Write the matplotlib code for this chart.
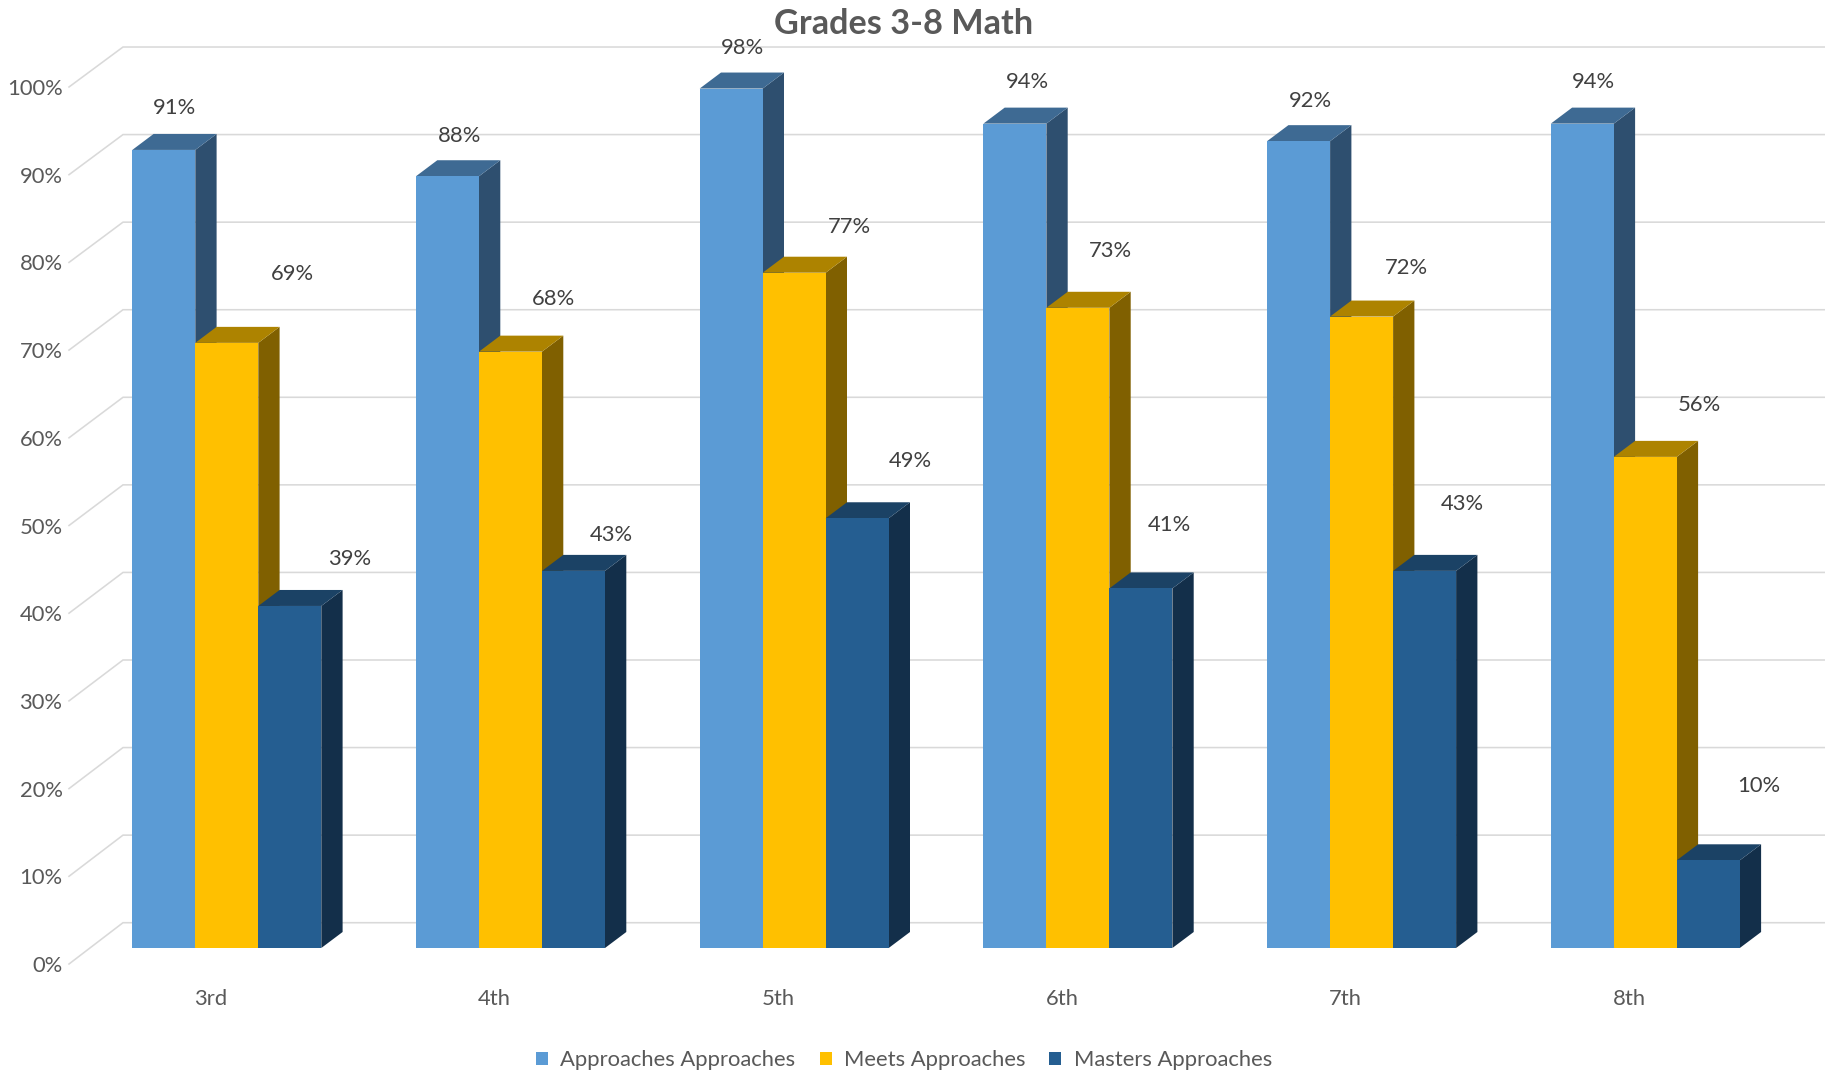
import matplotlib
matplotlib.use("Agg")
import matplotlib.pyplot as plt
from matplotlib.patches import Polygon, Patch

grades = ["3rd", "4th", "5th", "6th", "7th", "8th"]
approaches = [91, 88, 98, 94, 92, 94]
meets = [69, 68, 77, 73, 72, 56]
masters = [39, 43, 49, 41, 43, 10]
series_names = ["Approaches Approaches", "Meets Approaches", "Masters Approaches"]
y_ticks = list(range(0, 101, 10))

front_colors = ["#5B9BD5", "#FFC000", "#255E91"]
top_colors = ["#3E6A93", "#AD8300", "#1B4265"]
side_colors = ["#2E4F6F", "#806000", "#132F4A"]
# manual data-label placement, pixels from the bar's top centre
label_offsets = [
    [(11, 42), (12.5, 40.4), (11.2, 41), (13, 41.3), (12, 40.3), (11.2, 41.3)],
    [(65.5, 68.5), (42.6, 52.8), (55.3, 46), (32.9, 56.7), (44.9, 48.1), (54.2, 52.2)],
    [(60.2, 46.5), (37.8, 35.9), (53.3, 57.7), (28.1, 63.8), (37.8, 67.3), (50, 73.8)],
]

W, H = 1825, 1072
PX_X, PX_Y = 283.7, 8.77           # pixels per category / per percent
ORIGIN_X, ORIGIN_Y = 211, 964      # pixel position of x=0, y=0
AX_LEFT = 66

plt.rcParams["font.family"] = ["Lato", "DejaVu Sans"]
fig = plt.figure(figsize=(W / 100, H / 100), dpi=100, facecolor="white")
ax = fig.add_axes([AX_LEFT / W, (H - ORIGIN_Y) / H, (W - AX_LEFT) / W, ORIGIN_Y / H])
ax.set_xlim((AX_LEFT - ORIGIN_X) / PX_X, (W - ORIGIN_X) / PX_X)
ax.set_ylim(0, ORIGIN_Y / PX_Y)
for s in ax.spines.values():
    s.set_visible(False)
ax.set_facecolor("none")

# projection constants, in data units
wall_left = (69 - ORIGIN_X) / PX_X
wall_back = (123 - ORIGIN_X) / PX_X
wall_lift = (964 - 922.7) / PX_Y
base_x = 15.8 / PX_X               # bar group centre relative to tick
base_y = 16 / PX_Y                 # bar floor above axis line
depth_x = 21.3 / PX_X
depth_y = 16 / PX_Y
bar_w = 63 / PX_X

xmax = ax.get_xlim()[1]
for v in y_ticks:
    back = wall_lift + v * 0.9985
    ax.plot([wall_left, wall_back, xmax], [v, back, back],
            color="#D9D9D9", lw=1.15, zorder=1, solid_joinstyle="miter", clip_on=False)

all_values = [approaches, meets, masters]
for si, values in enumerate(all_values):
    for gi, v in enumerate(values):
        xc = gi + base_x + (si - 1) * bar_w
        x0, x1 = xc - bar_w / 2, xc + bar_w / 2
        y0, y1 = base_y, base_y + v
        z = 3 + si
        ax.add_patch(Polygon([(x1, y0), (x1 + depth_x, y0 + depth_y), (x1 + depth_x, y1 + depth_y), (x1, y1)],
                             closed=True, fc=side_colors[si], ec="none", zorder=z))
        ax.add_patch(Polygon([(x0, y1), (x0 + depth_x, y1 + depth_y), (x1 + depth_x, y1 + depth_y), (x1, y1)],
                             closed=True, fc=top_colors[si], ec="none", zorder=z))
        ax.add_patch(Polygon([(x0, y0), (x1, y0), (x1, y1), (x0, y1)],
                             closed=True, fc=front_colors[si], ec="none", zorder=z + 0.1))
        dx, dy = label_offsets[si][gi]
        ax.annotate(f"{v}%", xy=(xc, y1), xytext=(dx * 0.72, dy * 0.72), textcoords="offset points",
                    ha="center", va="center", fontsize=15.8, color="#404040", zorder=10)

ax.set_xticks(range(len(grades)))
ax.set_xticklabels(grades)
ax.set_yticks(y_ticks)
ax.set_yticklabels([f"{v}%" for v in y_ticks])
ax.tick_params(axis="both", length=0, labelsize=15.8, labelcolor="#595959")
ax.tick_params(axis="x", pad=18)
ax.tick_params(axis="y", pad=2.5)

fig.suptitle("Grades 3-8 Math", x=904 / W, y=1 - 24 / H, ha="center", va="center",
             fontsize=24.7, fontweight="bold", color="#595959")

handles = [Patch(fc=c, ec="none") for c in front_colors]
fig.legend(handles, series_names, loc="center", bbox_to_anchor=(904 / W, 1 - 1060 / H), ncol=3,
           frameon=False, fontsize=15.8, labelcolor="#595959", handlelength=0.55, handleheight=0.55,
           handletextpad=0.55, columnspacing=1.1, borderpad=0, borderaxespad=0)

fig.savefig("out.png", dpi=100)
